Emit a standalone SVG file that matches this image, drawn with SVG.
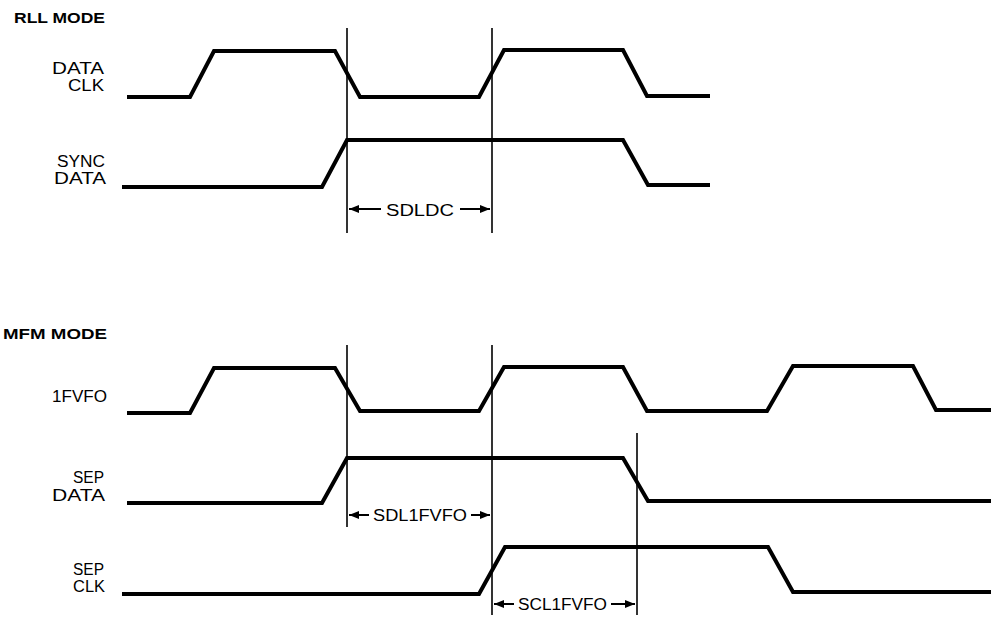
<svg xmlns="http://www.w3.org/2000/svg" width="991" height="618" viewBox="0 0 991 618">
<defs>
<style>
.wave{fill:none;stroke:#000;stroke-width:4;stroke-linejoin:miter}
.vl{stroke:#000;stroke-width:1.6}
.dim{stroke:#000;stroke-width:2;fill:none}
.lbl{font-family:"Liberation Sans",Arial,sans-serif;font-size:16px;fill:#000}
.hdr{font-family:"Liberation Sans",Arial,sans-serif;font-size:14px;font-weight:bold;fill:#000}
.dl{font-family:"Liberation Sans",Arial,sans-serif;font-size:16px;fill:#000}
</style>
<marker id="ah" viewBox="0 0 10 8" refX="10" refY="4" markerWidth="10" markerHeight="8" markerUnits="userSpaceOnUse" orient="auto">
<path d="M0,0 L10,4 L0,8 Z" fill="#000"/>
</marker>
</defs>
<rect width="991" height="618" fill="#fff"/>

<g id="titles">
<text class="hdr" x="14" y="23" textLength="91" lengthAdjust="spacingAndGlyphs">RLL MODE</text>
<text class="hdr" x="3" y="339" textLength="104" lengthAdjust="spacingAndGlyphs">MFM MODE</text>
</g>

<g id="rll-dataclk">
<text class="lbl" x="52" y="74" textLength="52" lengthAdjust="spacingAndGlyphs">DATA</text>
<text class="lbl" x="68" y="91" textLength="36" lengthAdjust="spacingAndGlyphs">CLK</text>
<polyline class="wave" points="127,97 190,97 214,51 335,51 360,97 479,97 504,50 623,50 647,96 710,96"/>
</g>

<g id="rll-syncdata">
<text class="lbl" x="57" y="167" textLength="48" lengthAdjust="spacingAndGlyphs">SYNC</text>
<text class="lbl" x="54" y="184" textLength="52" lengthAdjust="spacingAndGlyphs">DATA</text>
<polyline class="wave" points="122,187 322,187 347,140 623,140 648,185 710,185"/>
</g>

<g id="mfm-1fvfo">
<text class="lbl" x="52" y="402" textLength="55" lengthAdjust="spacingAndGlyphs">1FVFO</text>
<polyline class="wave" points="127,413 190,413 214,368 335,368 360,411 479,411 504,367 623,367 647,411 767,411 793,366 913,366 936,410 991,410"/>
</g>

<g id="mfm-sepdata">
<text class="lbl" x="73" y="483" textLength="31" lengthAdjust="spacingAndGlyphs">SEP</text>
<text class="lbl" x="52" y="501" textLength="53" lengthAdjust="spacingAndGlyphs">DATA</text>
<polyline class="wave" points="127,503 322,503 347,458 623,458 648,501 991,501"/>
</g>

<g id="mfm-sepclk">
<text class="lbl" x="73" y="575" textLength="31" lengthAdjust="spacingAndGlyphs">SEP</text>
<text class="lbl" x="73" y="592" textLength="32" lengthAdjust="spacingAndGlyphs">CLK</text>
<polyline class="wave" points="122,594 479,594 505,547 768,547 793,592 991,592"/>
</g>

<g id="connectors">
<line class="vl" x1="347" y1="28" x2="347" y2="233"/>
<line class="vl" x1="492" y1="28" x2="492" y2="233"/>
<line class="vl" x1="347" y1="345" x2="347" y2="527"/>
<line class="vl" x1="492" y1="345" x2="492" y2="615"/>
<line class="vl" x1="637" y1="433" x2="637" y2="615"/>

<line class="dim" x1="381" y1="209" x2="349" y2="209" marker-end="url(#ah)"/>
<line class="dim" x1="460" y1="209" x2="490" y2="209" marker-end="url(#ah)"/>
<text class="dl" x="386" y="216" textLength="68" lengthAdjust="spacingAndGlyphs">SDLDC</text>

<line class="dim" x1="369" y1="515" x2="349" y2="515" marker-end="url(#ah)"/>
<line class="dim" x1="471" y1="515" x2="490" y2="515" marker-end="url(#ah)"/>
<text class="dl" x="373" y="521" textLength="94" lengthAdjust="spacingAndGlyphs">SDL1FVFO</text>

<line class="dim" x1="514" y1="604" x2="494" y2="604" marker-end="url(#ah)"/>
<line class="dim" x1="611" y1="604" x2="635" y2="604" marker-end="url(#ah)"/>
<text class="dl" x="518" y="610" textLength="89" lengthAdjust="spacingAndGlyphs">SCL1FVFO</text>
</g>
</svg>
